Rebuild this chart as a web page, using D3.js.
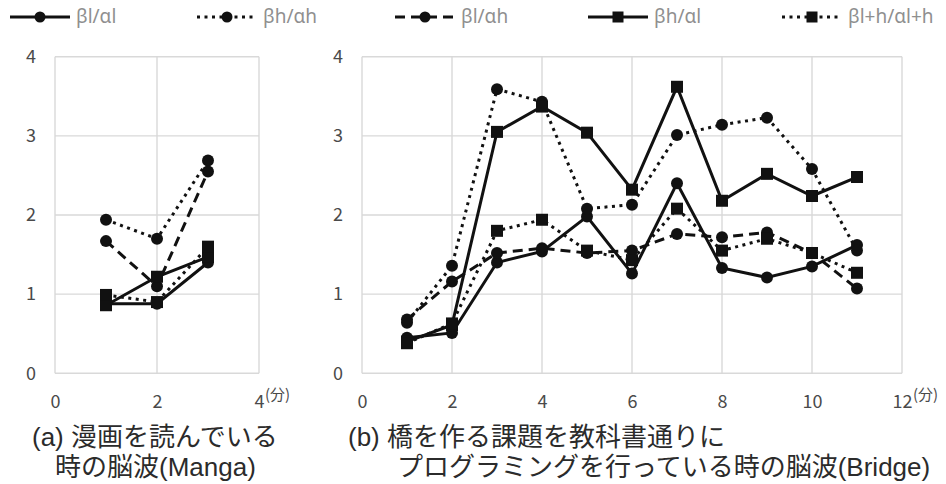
<!DOCTYPE html>
<html>
<head>
<meta charset="utf-8">
<script src="https://cdn.jsdelivr.net/npm/d3@7"></script>
<style>
  body { margin: 0; background: #fff; }
  svg { display: block; }
</style>
</head>
<body>
<svg id="chart" width="946" height="484"></svg>
<script>
// Series labels (legend order)
const seriesNames = ["βl/αl", "βh/αh", "βl/αh", "βh/αl", "βl+h/αl+h"];

// (a) Manga: minutes and ratios
const mangaMinutes = [1, 2, 3];
const mangaBlAl   = [0.88, 0.88, 1.40];
const mangaBhAh   = [1.94, 1.70, 2.69];
const mangaBlAh   = [1.67, 1.10, 2.55];
const mangaBhAl   = [0.86, 1.22, 1.47];
const mangaBlhAlh = [0.99, 0.90, 1.60];

// (b) Bridge: minutes and ratios
const bridgeMinutes = [1, 2, 3, 4, 5, 6, 7, 8, 9, 10, 11];
const bridgeBlAl   = [0.45, 0.51, 1.40, 1.54, 1.98, 1.26, 2.40, 1.33, 1.21, 1.35, 1.62];
const bridgeBhAh   = [0.64, 1.36, 3.59, 3.43, 2.08, 2.13, 3.01, 3.14, 3.23, 2.58, 1.55];
const bridgeBlAh   = [0.68, 1.16, 1.52, 1.58, 1.52, 1.55, 1.76, 1.72, 1.78, 1.52, 1.07];
const bridgeBhAl   = [0.40, 0.61, 3.05, 3.37, 3.04, 2.32, 3.62, 2.18, 2.52, 2.24, 2.48];
const bridgeBlhAlh = [0.38, 0.63, 1.80, 1.94, 1.55, 1.43, 2.08, 1.55, 1.70, 1.52, 1.27];

// Axis ticks
const yTicks = [0, 1, 2, 3, 4];
const mangaXTicks = [0, 2, 4];
const bridgeXTicks = [0, 2, 4, 6, 8, 10, 12];
const unitLabel = "(分)";

// Captions
const mangaCaption = ["(a) 漫画を読んでいる", "時の脳波(Manga)"];
const bridgeCaption = ["(b) 橋を作る課題を教科書通りに", "プログラミングを行っている時の脳波(Bridge)"];

// Line / marker style per series
const styleOf = {
  "βl/αl":     { dash: null,    marker: "circle" },
  "βh/αh":     { dash: "3,4.5", marker: "circle" },
  "βl/αh":     { dash: "10,6",  marker: "circle" },
  "βh/αl":     { dash: null,    marker: "square" },
  "βl+h/αl+h": { dash: "3,4.5", marker: "square" }
};
const INK = "#111";
const CAPTION_FONT = "'Liberation Sans', 'Noto Sans CJK JP', sans-serif";

const svg = d3.select("#chart");

function drawMarker(g, type, x, y, size) {
  if (type === "circle") {
    g.append("circle").attr("cx", x).attr("cy", y).attr("r", size / 2).attr("fill", INK);
  } else {
    g.append("rect").attr("x", x - size / 2).attr("y", y - size / 2)
      .attr("width", size).attr("height", size).attr("fill", INK);
  }
}

function panel(opts) {
  const { left, right, top, bottom, xMax, xTicks, minutes, series, caption } = opts;
  const x = d3.scaleLinear().domain([0, xMax]).range([left, right]);
  const y = d3.scaleLinear().domain([0, 4]).range([bottom, top]);
  const g = svg.append("g");

  // gridlines
  g.selectAll("line.h").data(yTicks).join("line")
    .attr("x1", left).attr("x2", right)
    .attr("y1", d => y(d)).attr("y2", d => y(d))
    .attr("stroke", "#d9d9d9").attr("stroke-width", 1.4);
  g.selectAll("line.v").data(xTicks).join("line")
    .attr("y1", top).attr("y2", bottom)
    .attr("x1", d => x(d)).attr("x2", d => x(d))
    .attr("stroke", "#d9d9d9").attr("stroke-width", 1.4);

  // axes (labels only)
  const ya = g.append("g").attr("transform", `translate(${left},0)`)
    .call(d3.axisLeft(y).tickValues(yTicks).tickSize(0).tickPadding(19).tickFormat(d3.format("d")));
  const xa = g.append("g").attr("transform", `translate(0,${bottom})`)
    .call(d3.axisBottom(x).tickValues(xTicks).tickSize(0).tickPadding(22).tickFormat(d3.format("d")));
  [ya, xa].forEach(a => {
    a.select(".domain").remove();
    a.selectAll("text").attr("font-family", "'Noto Sans CJK JP', 'Noto Sans', sans-serif")
      .attr("font-size", 18).attr("fill", "#4a4a4a");
  });
  // unit after the last x tick
  const last = xTicks[xTicks.length - 1];
  const lastW = String(last).length * 10;
  g.append("text").text(unitLabel)
    .attr("x", x(last) + lastW / 2 + 1).attr("y", bottom + 27)
    .attr("font-family", "'Noto Sans CJK JP', sans-serif").attr("font-size", 15)
    .attr("fill", "#4a4a4a");

  // series
  const line = d3.line().x(d => x(d[0])).y(d => y(d[1]));
  series.forEach(([name, vals]) => {
    const st = styleOf[name];
    const pts = minutes.map((m, i) => [m, vals[i]]);
    g.append("path").datum(pts).attr("d", line)
      .attr("fill", "none").attr("stroke", INK).attr("stroke-width", 3)
      .attr("stroke-dasharray", st.dash);
    pts.forEach(p => drawMarker(g, st.marker, x(p[0]), y(p[1]), 12));
  });

  // caption
  caption.forEach(c => {
    g.append("text").text(c.text)
      .attr("x", c.x).attr("y", c.y)
      .attr("font-family", CAPTION_FONT).attr("font-size", 26)
      .attr("fill", "#2b2b2b");
  });
}

panel({
  left: 55, right: 259, top: 56.7, bottom: 373.3, xMax: 4,
  xTicks: mangaXTicks, minutes: mangaMinutes,
  series: [["βl/αl", mangaBlAl], ["βh/αh", mangaBhAh], ["βl/αh", mangaBlAh],
           ["βh/αl", mangaBhAl], ["βl+h/αl+h", mangaBlhAlh]],
  caption: [{ text: mangaCaption[0], x: 32, y: 446 }, { text: mangaCaption[1], x: 55, y: 476 }]
});

panel({
  left: 362, right: 902, top: 56.7, bottom: 373.3, xMax: 12,
  xTicks: bridgeXTicks, minutes: bridgeMinutes,
  series: [["βl/αl", bridgeBlAl], ["βh/αh", bridgeBhAh], ["βl/αh", bridgeBlAh],
           ["βh/αl", bridgeBhAl], ["βl+h/αl+h", bridgeBlhAlh]],
  caption: [{ text: bridgeCaption[0], x: 348, y: 446 }, { text: bridgeCaption[1], x: 397, y: 476 }]
});

// legend
const legendX = [10, 197, 395, 588, 782];
const legend = svg.append("g");
seriesNames.forEach((name, i) => {
  const st = styleOf[name];
  const x0 = legendX[i], cy = 17;
  legend.append("line").attr("x1", x0).attr("x2", x0 + 60).attr("y1", cy).attr("y2", cy)
    .attr("stroke", INK).attr("stroke-width", 3).attr("stroke-dasharray", st.dash);
  drawMarker(legend, st.marker, x0 + 30, cy, 11);
  legend.append("text").text(name)
    .attr("x", x0 + 66).attr("y", cy + 1).attr("dominant-baseline", "middle")
    .attr("font-family", "'Noto Sans', sans-serif").attr("font-size", 19)
    .attr("fill", "#8f8f8f");
});
</script>
</body>
</html>
